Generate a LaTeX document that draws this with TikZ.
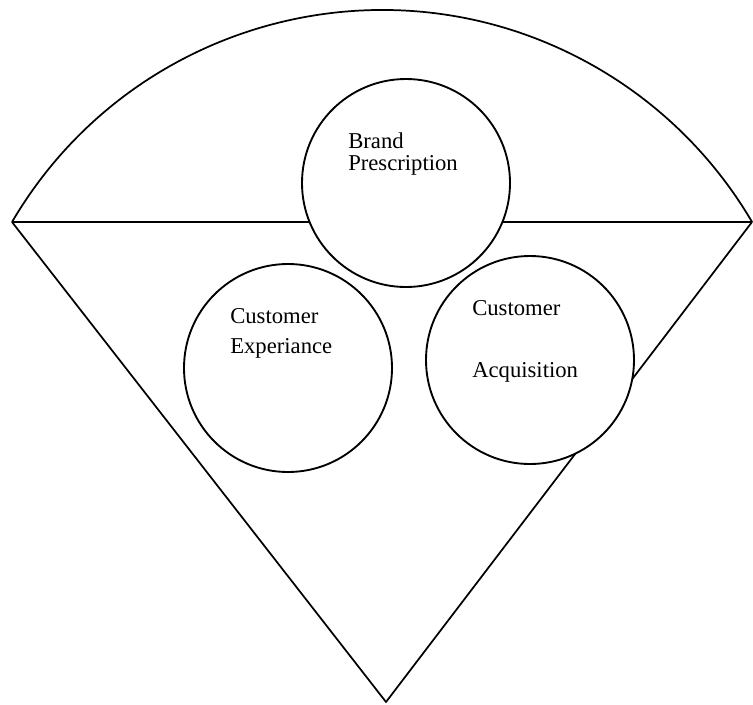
\documentclass[tikz,border=0pt]{standalone}
\usepackage{fontspec}
\setmainfont{Liberation Serif}
\begin{document}
\begin{tikzpicture}[x=0.75pt,y=0.75pt,yscale=-1,xscale=1,
  ring/.style={circle,draw,line width=1.4pt,fill=white,minimum size=156pt,inner sep=0pt},
  lbl/.style={anchor=base west,inner sep=0pt,font=\fontsize{17}{20}\selectfont}]
\useasboundingbox (0,0) rectangle (753,704);
\coordinate (L) at (12,222);
\coordinate (R) at (752,222);
\coordinate (B) at (386,702);
\draw [line width=1.3pt] (L) arc [start angle=210.39, end angle=329.61, radius=429];
\draw [line width=2pt] (L) -- (R);
\draw [line width=1.3pt,line join=round] (L) -- (B) -- (R);
\node [ring] (brand) at (406,183) {};
\node [ring] (exper) at (288,368) {};
\node [ring] (acq) at (530,360) {};
\node [lbl] (brand1) at (348,148) {Brand};
\node [lbl] (brand2) at (348,170) {Prescription};
\node [lbl] (exper1) at (230,323) {Customer};
\node [lbl] (exper2) at (230,353) {Experiance};
\node [lbl] (acq1) at (472,315) {Customer};
\node [lbl] (acq2) at (472,377) {Acquisition};
\end{tikzpicture}
\end{document}
